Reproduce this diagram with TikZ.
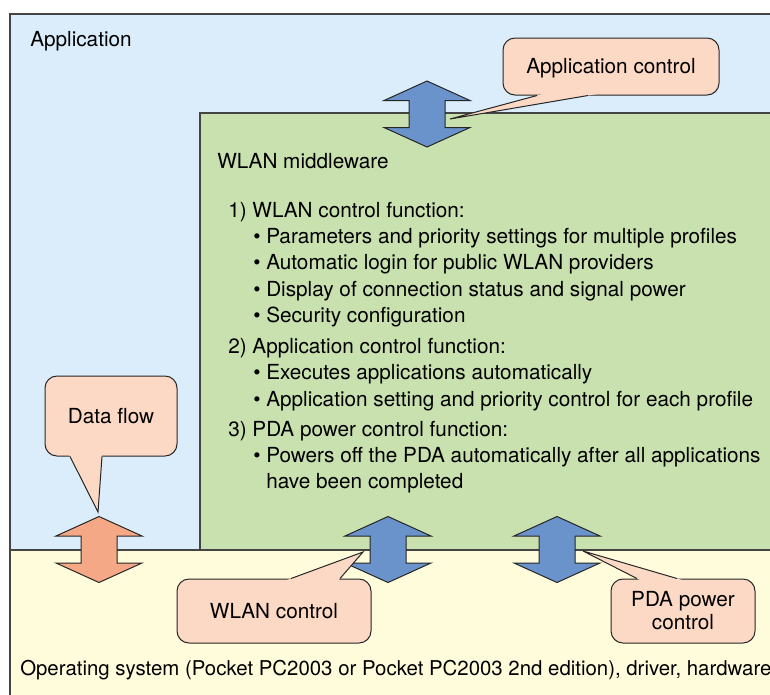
\documentclass[tikz,border=0pt]{standalone}
\usepackage{fontspec}
\setmainfont{TeX Gyre Heros}
\usetikzlibrary{calc}

\definecolor{appblue}{HTML}{DBEDFB}
\definecolor{mwgreen}{HTML}{C9E0AF}
\definecolor{osyellow}{HTML}{FFFCDC}
\definecolor{peach}{HTML}{FCD9C4}
\definecolor{arrowblue}{HTML}{6A93CB}
\definecolor{salmon}{HTML}{F5A885}
\definecolor{framegray}{HTML}{444444}

\tikzset{
  layer/.style={draw=framegray, line width=0.9pt},
  txt/.style={anchor=base west, inner sep=0pt, font=\fontsize{15.55}{17.25}\selectfont},
  callout/.style={draw=black!85, line width=0.75pt, fill=peach, rounded corners=9pt,
    inner sep=0pt, align=center, font=\fontsize{15.55}{17.25}\selectfont},
  oneline/.style={text height=11.2pt, text depth=0pt},
  pointer/.style={draw=black!85, line width=0.75pt, line join=miter},
  dblarrow/.pic={
    \draw[pic actions, line width=0.75pt, line join=miter]
      (0,-33) -- (43,-13.5) -- (18,-13.5) -- (18,13.5) -- (43,13.5) -- (0,33)
      -- (-43,13.5) -- (-18,13.5) -- (-18,-13.5) -- (-43,-13.5) -- cycle;
  }
}

\begin{document}
\begin{tikzpicture}[x=0.75pt, y=-0.75pt]
\useasboundingbox (0,0) rectangle (770,694);
\clip (0,0) rectangle (770,694);
\fill[white] (0,0) rectangle (770,694);

% layers: application, operating system, middleware
\draw[layer, fill=appblue] (10,14) rectangle (800,550);
\draw[layer, fill=osyellow] (10,550) rectangle (800,720);
\draw[layer, fill=mwgreen] (200,113) rectangle (800,550);

\node[txt] (app) at (30,46) {Application};
\node[txt, font=\fontsize{15.3}{17.25}\selectfont] (os) at (20,675) {Operating system (Pocket PC2003 or Pocket PC2003 2nd edition), driver, hardware};
\node[txt] (mw) at (217,168) {WLAN middleware};

% function list
\node[txt] (h1) at (228,217) {1) WLAN control function:};
\node[txt] (h2) at (228,353) {2) Application control function:};
\node[txt] (h3) at (228,436) {3) PDA power control function:};
\foreach \yy/\item [count=\i] in {
    243/Parameters and priority settings for multiple profiles,
    269/Automatic login for public WLAN providers,
    296/Display of connection status and signal power,
    322/Security configuration,
    379/Executes applications automatically,
    406/Application setting and priority control for each profile,
    462/Powers off the PDA automatically after all applications} {
  \node[txt] (dot\i) at (253,\yy) {•};
  \node[txt] (item\i) at (266,\yy) {\item};
}
\node[txt] (item8) at (266,488) {have been completed};

% double arrows between layers
\pic[fill=arrowblue, draw=black!85] at (427,114) {dblarrow};
\pic[fill=salmon, draw=black!85] at (99,549.5) {dblarrow};
\pic[fill=arrowblue, draw=black!85] at (388,549.5) {dblarrow};
\pic[fill=arrowblue, draw=black!85] at (557,549.5) {dblarrow};

% callouts
\node[callout, oneline, minimum width=162pt, minimum height=42.75pt] (acBox) at (611,66.5) {Application control};
\coordinate (acTip) at (450,119);
\coordinate (acB1) at ($(acBox.south)+(-74,0)$);
\coordinate (acB2) at ($(acBox.south)+(-23,0)$);

\node[callout, oneline, minimum width=99pt, minimum height=60pt] (dfBox) at (111,416) {Data flow};
\coordinate (dfTip) at (98,512);
\coordinate (dfB1) at ($(dfBox.south)+(-41,0)$);
\coordinate (dfB2) at ($(dfBox.south)+(-9,0)$);

\node[callout, oneline, minimum width=145.5pt, minimum height=48pt] (wcBox) at (274,611) {WLAN control};
\coordinate (wcTip) at (363,552);
\coordinate (wcB1) at ($(wcBox.north)+(17,0)$);
\coordinate (wcB2) at ($(wcBox.north)+(66,0)$);

\node[callout, minimum width=108pt, minimum height=48pt] (pcBox) at (683,611) {PDA power\\control};
\coordinate (pcTip) at (583,551);
\coordinate (pcB1) at ($(pcBox.north)+(-46,0)$);
\coordinate (pcB2) at ($(pcBox.north)+(-6,0)$);

\foreach \c in {ac,df,wc,pc} {
  \fill[peach] ($(\c Tip)!1.06!(\c B1)$) -- (\c Tip) -- ($(\c Tip)!1.06!(\c B2)$) -- cycle;
  \draw[pointer] (\c B1) -- (\c Tip) -- (\c B2);
}
\end{tikzpicture}
\end{document}
